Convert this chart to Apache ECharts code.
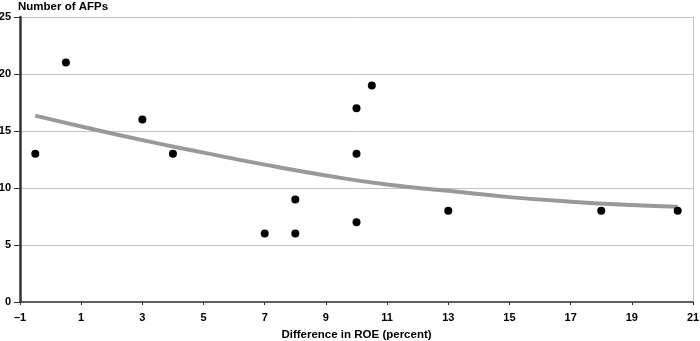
<!DOCTYPE html>
<html>
<head>
<meta charset="utf-8">
<script src="https://cdn.jsdelivr.net/npm/echarts@6/dist/echarts.min.js"></script>
<style>
  html, body { margin: 0; padding: 0; background: #fff; }
  #chart { width: 700px; height: 341px; }
</style>
</head>
<body>
<div id="chart"></div>
<script>
// Observed AFP counts against ROE difference
const roeDiff = [-0.5, 0.5, 3, 4, 7, 8, 8, 10, 10, 10, 10.5, 13, 18, 20.5];
const afpCount = [13, 21, 16, 13, 6, 9, 6, 17, 13, 7, 19, 8, 8, 8];

// Fitted trend curve, sampled along the x range
const trendX = [-0.5, 1, 3, 5, 7, 9, 11, 13, 15, 17, 19, 20.5];
const trendY = [16.35, 15.4, 14.2, 13.1, 12.05, 11.1, 10.3, 9.75, 9.2, 8.8, 8.5, 8.35];

const xTitle = 'Difference in ROE (percent)';
const yTitle = 'Number of AFPs';

const FONT = '"Liberation Sans", Arial, Helvetica, sans-serif';

const chart = echarts.init(document.getElementById('chart'), null, { renderer: 'canvas' });

chart.setOption({
  animation: false,
  backgroundColor: '#fff',
  grid: {
    left: 20, right: 7, top: 17, bottom: 39,
    containLabel: false,
    outerBoundsMode: 'none'
  },
  title: {
    text: yTitle,
    left: 18, top: 1, padding: 0,
    textStyle: { fontFamily: FONT, fontSize: 11.5, fontWeight: 'bold', color: '#000' }
  },
  xAxis: {
    type: 'value',
    min: -1, max: 21, interval: 2,
    name: xTitle,
    nameLocation: 'middle',
    nameGap: 27,
    nameTextStyle: { fontFamily: FONT, fontSize: 11.5, fontWeight: 'bold', color: '#000' },
    axisLine: { show: true, onZero: false, lineStyle: { color: '#333', width: 1.5 } },
    axisTick: { show: true, length: 3, lineStyle: { color: '#333' } },
    axisLabel: {
      fontFamily: FONT, fontSize: 11, fontWeight: 'bold', color: '#000', margin: 10,
      formatter: v => String(v).replace('-', '\u2013')
    },
    splitLine: { show: false }
  },
  yAxis: [
    {
      type: 'value',
      min: 0, max: 25, interval: 5,
      axisLine: { show: true, onZero: false, lineStyle: { color: '#333', width: 2.5 } },
      axisTick: { show: true, length: 6, lineStyle: { color: '#333' } },
      axisLabel: { fontFamily: FONT, fontSize: 11, fontWeight: 'bold', color: '#000', margin: 9 },
      splitLine: { show: true, lineStyle: { color: '#c4c4c4', width: 1 } }
    },
    {
      type: 'value',
      position: 'right',
      min: 0, max: 25, interval: 5,
      axisLine: { show: true, onZero: false, lineStyle: { color: '#c4c4c4', width: 1 } },
      axisTick: { show: false },
      axisLabel: { show: false },
      splitLine: { show: false }
    }
  ],
  series: [
    {
      name: 'Trend',
      type: 'line',
      smooth: true,
      showSymbol: false,
      symbol: 'none',
      lineStyle: { color: '#999', width: 4 },
      data: trendX.map((x, i) => [x, trendY[i]]),
      z: 2
    },
    {
      name: 'AFPs',
      type: 'scatter',
      symbol: 'circle',
      symbolSize: 8,
      itemStyle: { color: '#000', opacity: 1 },
      data: roeDiff.map((x, i) => [x, afpCount[i]]),
      z: 3
    }
  ]
});
</script>
</body>
</html>
